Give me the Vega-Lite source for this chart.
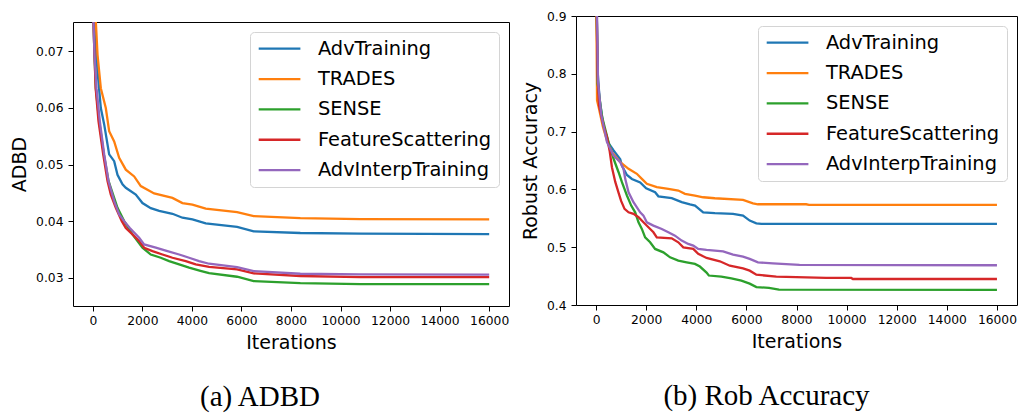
{
  "$schema": "https://vega.github.io/schema/vega-lite/v6.json",
  "padding": {"left": 10, "top": 9, "right": 0, "bottom": 0},
  "spacing": 10,
  "background": "white",
  "config": {
    "view": {"stroke": "#000000", "strokeWidth": 1},
    "axis": {
      "grid": false,
      "domain": false,
      "ticks": true,
      "tickSize": 5,
      "tickWidth": 1,
      "tickColor": "#000000",
      "labelFont": "DejaVu Sans",
      "labelFontSize": 12.3,
      "labelColor": "#000000",
      "labelPadding": 5,
      "titleFont": "DejaVu Sans",
      "titleFontSize": 19,
      "titleFontWeight": "normal",
      "titleColor": "#000000"
    },
    "axisX": {"titlePadding": 7, "labelPadding": 3},
    "axisY": {"titlePadding": 6},
    "legend": {
      "orient": "top-right",
      "offset": 10,
      "title": null,
      "labelFont": "DejaVu Sans",
      "labelFontSize": 19.4,
      "labelColor": "#000000",
      "labelLimit": 400,
      "labelOffset": 41.5,
      "symbolType": "M-1,0H4.2125",
      "symbolSize": 256,
      "symbolStrokeWidth": 2.3,
      "rowPadding": 9.35,
      "padding": 7,
      "strokeColor": "#d4d4d4",
      "fillColor": "#ffffff",
      "cornerRadius": 4
    },
    "title": {
      "font": "Liberation Serif",
      "fontSize": 29,
      "fontWeight": "normal",
      "color": "#000000"
    }
  },
  "datasets": {
    "adbd": [
      {"m": "AdvTraining", "it": 0, "v": 0.10},
      {"m": "AdvTraining", "it": 56, "v": 0.0753},
      {"m": "AdvTraining", "it": 190, "v": 0.0665},
      {"m": "AdvTraining", "it": 323, "v": 0.0600},
      {"m": "AdvTraining", "it": 459, "v": 0.0571},
      {"m": "AdvTraining", "it": 660, "v": 0.0518},
      {"m": "AdvTraining", "it": 862, "v": 0.0506},
      {"m": "AdvTraining", "it": 996, "v": 0.0482},
      {"m": "AdvTraining", "it": 1198, "v": 0.0465},
      {"m": "AdvTraining", "it": 1331, "v": 0.0459},
      {"m": "AdvTraining", "it": 1734, "v": 0.0447},
      {"m": "AdvTraining", "it": 2004, "v": 0.0432},
      {"m": "AdvTraining", "it": 2339, "v": 0.0423},
      {"m": "AdvTraining", "it": 2678, "v": 0.0418},
      {"m": "AdvTraining", "it": 3215, "v": 0.0413},
      {"m": "AdvTraining", "it": 3618, "v": 0.0406},
      {"m": "AdvTraining", "it": 4021, "v": 0.0403},
      {"m": "AdvTraining", "it": 4558, "v": 0.0396},
      {"m": "AdvTraining", "it": 5824, "v": 0.0390},
      {"m": "AdvTraining", "it": 6494, "v": 0.0382},
      {"m": "AdvTraining", "it": 8377, "v": 0.0379},
      {"m": "AdvTraining", "it": 10797, "v": 0.0378},
      {"m": "AdvTraining", "it": 16000, "v": 0.0377},
      {"m": "TRADES", "it": 0, "v": 0.11},
      {"m": "TRADES", "it": 121, "v": 0.0753},
      {"m": "TRADES", "it": 190, "v": 0.0694},
      {"m": "TRADES", "it": 323, "v": 0.0635},
      {"m": "TRADES", "it": 524, "v": 0.0600},
      {"m": "TRADES", "it": 660, "v": 0.0559},
      {"m": "TRADES", "it": 862, "v": 0.0541},
      {"m": "TRADES", "it": 1063, "v": 0.0512},
      {"m": "TRADES", "it": 1331, "v": 0.0491},
      {"m": "TRADES", "it": 1670, "v": 0.0479},
      {"m": "TRADES", "it": 1936, "v": 0.0462},
      {"m": "TRADES", "it": 2476, "v": 0.0449},
      {"m": "TRADES", "it": 3215, "v": 0.0441},
      {"m": "TRADES", "it": 3617, "v": 0.0432},
      {"m": "TRADES", "it": 4021, "v": 0.0429},
      {"m": "TRADES", "it": 4558, "v": 0.0422},
      {"m": "TRADES", "it": 5824, "v": 0.0416},
      {"m": "TRADES", "it": 6494, "v": 0.0409},
      {"m": "TRADES", "it": 8377, "v": 0.04053},
      {"m": "TRADES", "it": 10797, "v": 0.04035},
      {"m": "TRADES", "it": 16000, "v": 0.0403},
      {"m": "SENSE", "it": 0, "v": 0.09},
      {"m": "SENSE", "it": 25, "v": 0.0753},
      {"m": "SENSE", "it": 67, "v": 0.0694},
      {"m": "SENSE", "it": 121, "v": 0.0635},
      {"m": "SENSE", "it": 257, "v": 0.05765},
      {"m": "SENSE", "it": 446, "v": 0.0518},
      {"m": "SENSE", "it": 633, "v": 0.0471},
      {"m": "SENSE", "it": 996, "v": 0.04235},
      {"m": "SENSE", "it": 1265, "v": 0.0400},
      {"m": "SENSE", "it": 1601, "v": 0.03765},
      {"m": "SENSE", "it": 1803, "v": 0.03647},
      {"m": "SENSE", "it": 2004, "v": 0.0353},
      {"m": "SENSE", "it": 2339, "v": 0.0341},
      {"m": "SENSE", "it": 2742, "v": 0.03353},
      {"m": "SENSE", "it": 3080, "v": 0.03294},
      {"m": "SENSE", "it": 3484, "v": 0.03236},
      {"m": "SENSE", "it": 3887, "v": 0.03177},
      {"m": "SENSE", "it": 4344, "v": 0.0312},
      {"m": "SENSE", "it": 4693, "v": 0.0308},
      {"m": "SENSE", "it": 5824, "v": 0.03017},
      {"m": "SENSE", "it": 6494, "v": 0.02941},
      {"m": "SENSE", "it": 8377, "v": 0.02906},
      {"m": "SENSE", "it": 10797, "v": 0.02888},
      {"m": "SENSE", "it": 16000, "v": 0.02885},
      {"m": "FeatureScattering", "it": 0, "v": 0.09},
      {"m": "FeatureScattering", "it": 25, "v": 0.0753},
      {"m": "FeatureScattering", "it": 67, "v": 0.0694},
      {"m": "FeatureScattering", "it": 115, "v": 0.0635},
      {"m": "FeatureScattering", "it": 230, "v": 0.05765},
      {"m": "FeatureScattering", "it": 419, "v": 0.0518},
      {"m": "FeatureScattering", "it": 593, "v": 0.0471},
      {"m": "FeatureScattering", "it": 727, "v": 0.0447},
      {"m": "FeatureScattering", "it": 928, "v": 0.04235},
      {"m": "FeatureScattering", "it": 1170, "v": 0.0400},
      {"m": "FeatureScattering", "it": 1331, "v": 0.0388},
      {"m": "FeatureScattering", "it": 1601, "v": 0.03765},
      {"m": "FeatureScattering", "it": 1870, "v": 0.03647},
      {"m": "FeatureScattering", "it": 2071, "v": 0.0353},
      {"m": "FeatureScattering", "it": 2408, "v": 0.0347},
      {"m": "FeatureScattering", "it": 2811, "v": 0.0341},
      {"m": "FeatureScattering", "it": 3215, "v": 0.03353},
      {"m": "FeatureScattering", "it": 3752, "v": 0.03294},
      {"m": "FeatureScattering", "it": 4155, "v": 0.03236},
      {"m": "FeatureScattering", "it": 4693, "v": 0.0319},
      {"m": "FeatureScattering", "it": 5824, "v": 0.03147},
      {"m": "FeatureScattering", "it": 6494, "v": 0.03077},
      {"m": "FeatureScattering", "it": 8377, "v": 0.0303},
      {"m": "FeatureScattering", "it": 10797, "v": 0.03012},
      {"m": "FeatureScattering", "it": 16000, "v": 0.0301},
      {"m": "AdvInterpTraining", "it": 0, "v": 0.09},
      {"m": "AdvInterpTraining", "it": 28, "v": 0.0753},
      {"m": "AdvInterpTraining", "it": 67, "v": 0.0694},
      {"m": "AdvInterpTraining", "it": 148, "v": 0.0635},
      {"m": "AdvInterpTraining", "it": 283, "v": 0.05765},
      {"m": "AdvInterpTraining", "it": 459, "v": 0.0518},
      {"m": "AdvInterpTraining", "it": 633, "v": 0.0471},
      {"m": "AdvInterpTraining", "it": 862, "v": 0.04353},
      {"m": "AdvInterpTraining", "it": 1063, "v": 0.04118},
      {"m": "AdvInterpTraining", "it": 1265, "v": 0.0400},
      {"m": "AdvInterpTraining", "it": 1493, "v": 0.0388},
      {"m": "AdvInterpTraining", "it": 1870, "v": 0.03706},
      {"m": "AdvInterpTraining", "it": 2071, "v": 0.03588},
      {"m": "AdvInterpTraining", "it": 2542, "v": 0.0353},
      {"m": "AdvInterpTraining", "it": 3013, "v": 0.0347},
      {"m": "AdvInterpTraining", "it": 3484, "v": 0.0341},
      {"m": "AdvInterpTraining", "it": 3887, "v": 0.03353},
      {"m": "AdvInterpTraining", "it": 4290, "v": 0.03294},
      {"m": "AdvInterpTraining", "it": 4693, "v": 0.03247},
      {"m": "AdvInterpTraining", "it": 5824, "v": 0.03189},
      {"m": "AdvInterpTraining", "it": 6494, "v": 0.03118},
      {"m": "AdvInterpTraining", "it": 8377, "v": 0.0307},
      {"m": "AdvInterpTraining", "it": 10797, "v": 0.0306},
      {"m": "AdvInterpTraining", "it": 16000, "v": 0.03055}
    ],
    "rob": [
      {"m": "AdvTraining", "it": 0, "v": 0.98},
      {"m": "AdvTraining", "it": 30, "v": 0.9},
      {"m": "AdvTraining", "it": 70, "v": 0.80},
      {"m": "AdvTraining", "it": 145, "v": 0.754},
      {"m": "AdvTraining", "it": 300, "v": 0.71},
      {"m": "AdvTraining", "it": 500, "v": 0.68},
      {"m": "AdvTraining", "it": 700, "v": 0.6673},
      {"m": "AdvTraining", "it": 966, "v": 0.652},
      {"m": "AdvTraining", "it": 1033, "v": 0.641},
      {"m": "AdvTraining", "it": 1232, "v": 0.625},
      {"m": "AdvTraining", "it": 1431, "v": 0.618},
      {"m": "AdvTraining", "it": 1761, "v": 0.612},
      {"m": "AdvTraining", "it": 2000, "v": 0.602},
      {"m": "AdvTraining", "it": 2357, "v": 0.595},
      {"m": "AdvTraining", "it": 2488, "v": 0.588},
      {"m": "AdvTraining", "it": 3020, "v": 0.585},
      {"m": "AdvTraining", "it": 3418, "v": 0.578},
      {"m": "AdvTraining", "it": 3748, "v": 0.574},
      {"m": "AdvTraining", "it": 3950, "v": 0.572},
      {"m": "AdvTraining", "it": 4276, "v": 0.5604},
      {"m": "AdvTraining", "it": 4740, "v": 0.559},
      {"m": "AdvTraining", "it": 5468, "v": 0.5576},
      {"m": "AdvTraining", "it": 5866, "v": 0.5547},
      {"m": "AdvTraining", "it": 6132, "v": 0.546},
      {"m": "AdvTraining", "it": 6398, "v": 0.5414},
      {"m": "AdvTraining", "it": 6600, "v": 0.5403},
      {"m": "AdvTraining", "it": 16000, "v": 0.5403},
      {"m": "TRADES", "it": 0, "v": 0.98},
      {"m": "TRADES", "it": 15, "v": 0.9},
      {"m": "TRADES", "it": 40, "v": 0.754},
      {"m": "TRADES", "it": 105, "v": 0.7423},
      {"m": "TRADES", "it": 278, "v": 0.7077},
      {"m": "TRADES", "it": 437, "v": 0.6846},
      {"m": "TRADES", "it": 636, "v": 0.6644},
      {"m": "TRADES", "it": 966, "v": 0.647},
      {"m": "TRADES", "it": 1297, "v": 0.6356},
      {"m": "TRADES", "it": 1629, "v": 0.627},
      {"m": "TRADES", "it": 1828, "v": 0.6183},
      {"m": "TRADES", "it": 2027, "v": 0.6096},
      {"m": "TRADES", "it": 2424, "v": 0.6038},
      {"m": "TRADES", "it": 2885, "v": 0.601},
      {"m": "TRADES", "it": 3283, "v": 0.598},
      {"m": "TRADES", "it": 3549, "v": 0.5923},
      {"m": "TRADES", "it": 3946, "v": 0.5894},
      {"m": "TRADES", "it": 4276, "v": 0.5864},
      {"m": "TRADES", "it": 4740, "v": 0.5847},
      {"m": "TRADES", "it": 5866, "v": 0.582},
      {"m": "TRADES", "it": 6263, "v": 0.576},
      {"m": "TRADES", "it": 6462, "v": 0.5743},
      {"m": "TRADES", "it": 8386, "v": 0.5743},
      {"m": "TRADES", "it": 8500, "v": 0.5733},
      {"m": "TRADES", "it": 16000, "v": 0.5733},
      {"m": "SENSE", "it": 0, "v": 0.98},
      {"m": "SENSE", "it": 30, "v": 0.9},
      {"m": "SENSE", "it": 65, "v": 0.783},
      {"m": "SENSE", "it": 238, "v": 0.726},
      {"m": "SENSE", "it": 397, "v": 0.699},
      {"m": "SENSE", "it": 568, "v": 0.6703},
      {"m": "SENSE", "it": 700, "v": 0.653},
      {"m": "SENSE", "it": 899, "v": 0.6297},
      {"m": "SENSE", "it": 1033, "v": 0.6124},
      {"m": "SENSE", "it": 1232, "v": 0.5894},
      {"m": "SENSE", "it": 1403, "v": 0.572},
      {"m": "SENSE", "it": 1562, "v": 0.5604},
      {"m": "SENSE", "it": 1694, "v": 0.5431},
      {"m": "SENSE", "it": 1828, "v": 0.5316},
      {"m": "SENSE", "it": 1959, "v": 0.5171},
      {"m": "SENSE", "it": 2158, "v": 0.5085},
      {"m": "SENSE", "it": 2357, "v": 0.497},
      {"m": "SENSE", "it": 2687, "v": 0.4911},
      {"m": "SENSE", "it": 2953, "v": 0.4825},
      {"m": "SENSE", "it": 3283, "v": 0.4767},
      {"m": "SENSE", "it": 3616, "v": 0.4738},
      {"m": "SENSE", "it": 3946, "v": 0.471},
      {"m": "SENSE", "it": 4145, "v": 0.4665},
      {"m": "SENSE", "it": 4410, "v": 0.456},
      {"m": "SENSE", "it": 4500, "v": 0.451},
      {"m": "SENSE", "it": 5000, "v": 0.449},
      {"m": "SENSE", "it": 5400, "v": 0.446},
      {"m": "SENSE", "it": 5800, "v": 0.442},
      {"m": "SENSE", "it": 6130, "v": 0.437},
      {"m": "SENSE", "it": 6400, "v": 0.431},
      {"m": "SENSE", "it": 6900, "v": 0.4295},
      {"m": "SENSE", "it": 7300, "v": 0.4265},
      {"m": "SENSE", "it": 16000, "v": 0.426},
      {"m": "FeatureScattering", "it": 0, "v": 0.98},
      {"m": "FeatureScattering", "it": 30, "v": 0.9},
      {"m": "FeatureScattering", "it": 60, "v": 0.8},
      {"m": "FeatureScattering", "it": 120, "v": 0.745},
      {"m": "FeatureScattering", "it": 300, "v": 0.71},
      {"m": "FeatureScattering", "it": 437, "v": 0.69},
      {"m": "FeatureScattering", "it": 541, "v": 0.667},
      {"m": "FeatureScattering", "it": 636, "v": 0.638},
      {"m": "FeatureScattering", "it": 767, "v": 0.613},
      {"m": "FeatureScattering", "it": 900, "v": 0.594},
      {"m": "FeatureScattering", "it": 1000, "v": 0.58},
      {"m": "FeatureScattering", "it": 1137, "v": 0.5663},
      {"m": "FeatureScattering", "it": 1297, "v": 0.5604},
      {"m": "FeatureScattering", "it": 1494, "v": 0.5577},
      {"m": "FeatureScattering", "it": 1694, "v": 0.5518},
      {"m": "FeatureScattering", "it": 1892, "v": 0.5431},
      {"m": "FeatureScattering", "it": 2090, "v": 0.5345},
      {"m": "FeatureScattering", "it": 2290, "v": 0.5258},
      {"m": "FeatureScattering", "it": 2424, "v": 0.5171},
      {"m": "FeatureScattering", "it": 3020, "v": 0.5154},
      {"m": "FeatureScattering", "it": 3283, "v": 0.5085},
      {"m": "FeatureScattering", "it": 3482, "v": 0.4998},
      {"m": "FeatureScattering", "it": 3880, "v": 0.497},
      {"m": "FeatureScattering", "it": 4077, "v": 0.4884},
      {"m": "FeatureScattering", "it": 4410, "v": 0.4814},
      {"m": "FeatureScattering", "it": 4940, "v": 0.4756},
      {"m": "FeatureScattering", "it": 5337, "v": 0.468},
      {"m": "FeatureScattering", "it": 5866, "v": 0.4634},
      {"m": "FeatureScattering", "it": 6132, "v": 0.4594},
      {"m": "FeatureScattering", "it": 6398, "v": 0.4525},
      {"m": "FeatureScattering", "it": 7193, "v": 0.449},
      {"m": "FeatureScattering", "it": 9180, "v": 0.4468},
      {"m": "FeatureScattering", "it": 10186, "v": 0.4468},
      {"m": "FeatureScattering", "it": 10250, "v": 0.445},
      {"m": "FeatureScattering", "it": 16000, "v": 0.445},
      {"m": "AdvInterpTraining", "it": 0, "v": 0.98},
      {"m": "AdvInterpTraining", "it": 40, "v": 0.9},
      {"m": "AdvInterpTraining", "it": 79, "v": 0.7857},
      {"m": "AdvInterpTraining", "it": 211, "v": 0.728},
      {"m": "AdvInterpTraining", "it": 437, "v": 0.6817},
      {"m": "AdvInterpTraining", "it": 700, "v": 0.6587},
      {"m": "AdvInterpTraining", "it": 966, "v": 0.647},
      {"m": "AdvInterpTraining", "it": 1097, "v": 0.6356},
      {"m": "AdvInterpTraining", "it": 1164, "v": 0.6183},
      {"m": "AdvInterpTraining", "it": 1297, "v": 0.5951},
      {"m": "AdvInterpTraining", "it": 1494, "v": 0.5778},
      {"m": "AdvInterpTraining", "it": 1761, "v": 0.5604},
      {"m": "AdvInterpTraining", "it": 1892, "v": 0.5547},
      {"m": "AdvInterpTraining", "it": 2027, "v": 0.5431},
      {"m": "AdvInterpTraining", "it": 2290, "v": 0.5374},
      {"m": "AdvInterpTraining", "it": 2623, "v": 0.5316},
      {"m": "AdvInterpTraining", "it": 2885, "v": 0.5258},
      {"m": "AdvInterpTraining", "it": 3151, "v": 0.52},
      {"m": "AdvInterpTraining", "it": 3418, "v": 0.5114},
      {"m": "AdvInterpTraining", "it": 3680, "v": 0.5057},
      {"m": "AdvInterpTraining", "it": 3880, "v": 0.5028},
      {"m": "AdvInterpTraining", "it": 4077, "v": 0.497},
      {"m": "AdvInterpTraining", "it": 4410, "v": 0.4953},
      {"m": "AdvInterpTraining", "it": 5071, "v": 0.4929},
      {"m": "AdvInterpTraining", "it": 5468, "v": 0.4872},
      {"m": "AdvInterpTraining", "it": 5866, "v": 0.4837},
      {"m": "AdvInterpTraining", "it": 6132, "v": 0.4797},
      {"m": "AdvInterpTraining", "it": 6462, "v": 0.4738},
      {"m": "AdvInterpTraining", "it": 7058, "v": 0.4721},
      {"m": "AdvInterpTraining", "it": 8118, "v": 0.4693},
      {"m": "AdvInterpTraining", "it": 16000, "v": 0.4688}
    ]
  },
  "hconcat": [
    {
      "spacing": 1,
      "resolve": {"scale": {"color": "independent", "x": "independent", "y": "independent"}, "legend": {"color": "independent"}, "axis": {"x": "independent", "y": "independent"}},
      "vconcat": [
        {
          "width": 436,
          "height": 4,
          "view": {"stroke": null},
          "data": {"values": []},
          "mark": "point",
          "encoding": {}
        },
        {
          "width": 436,
          "height": 284,
          "title": {"text": "(a) ADBD", "orient": "bottom", "anchor": "middle", "offset": 31, "dx": -31},
          "data": {"name": "adbd"},
          "mark": {"type": "line", "clip": true, "strokeWidth": 2.3},
          "encoding": {
            "x": {
              "field": "it", "type": "quantitative",
              "scale": {"domain": [-800, 16800], "nice": false, "zero": false},
              "axis": {"title": "Iterations", "values": [0, 2000, 4000, 6000, 8000, 10000, 12000, 14000, 16000], "format": "d", "labelFlush": false, "labelOverlap": false}
            },
            "y": {
              "field": "v", "type": "quantitative",
              "scale": {"domain": [0.025, 0.0752], "nice": false, "zero": false},
              "axis": {"title": "ADBD", "values": [0.03, 0.04, 0.05, 0.06, 0.07], "format": ".2f", "labelFlush": false, "labelOverlap": false}
            },
            "color": {
              "field": "m", "type": "nominal",
              "scale": {
                "domain": ["AdvTraining", "TRADES", "SENSE", "FeatureScattering", "AdvInterpTraining"],
                "range": ["#1f77b4", "#ff7f0e", "#2ca02c", "#d62728", "#9467bd"]
              },
              "legend": {}
            },
            "order": {"field": "it", "type": "quantitative"}
          }
        }
      ]
    },
    {
      "width": 441,
      "height": 289,
      "title": {"text": "(b) Rob Accuracy", "orient": "bottom", "anchor": "middle", "offset": 31, "dx": -30},
      "data": {"name": "rob"},
      "mark": {"type": "line", "clip": true, "strokeWidth": 2.3},
      "encoding": {
        "x": {
          "field": "it", "type": "quantitative",
          "scale": {"domain": [-800, 16800], "nice": false, "zero": false},
          "axis": {"title": "Iterations", "values": [0, 2000, 4000, 6000, 8000, 10000, 12000, 14000, 16000], "format": "d", "labelFlush": false, "labelOverlap": false}
        },
        "y": {
          "field": "v", "type": "quantitative",
          "scale": {"domain": [0.4, 0.9], "nice": false, "zero": false},
          "axis": {"title": "Robust Accuracy", "values": [0.4, 0.5, 0.6, 0.7, 0.8, 0.9], "format": ".1f", "labelFlush": false, "labelOverlap": false}
        },
        "color": {
          "field": "m", "type": "nominal",
          "scale": {
            "domain": ["AdvTraining", "TRADES", "SENSE", "FeatureScattering", "AdvInterpTraining"],
            "range": ["#1f77b4", "#ff7f0e", "#2ca02c", "#d62728", "#9467bd"]
          },
          "legend": {}
        },
        "order": {"field": "it", "type": "quantitative"}
      }
    }
  ],
  "resolve": {"scale": {"color": "independent", "x": "independent", "y": "independent"}, "legend": {"color": "independent"}}
}
